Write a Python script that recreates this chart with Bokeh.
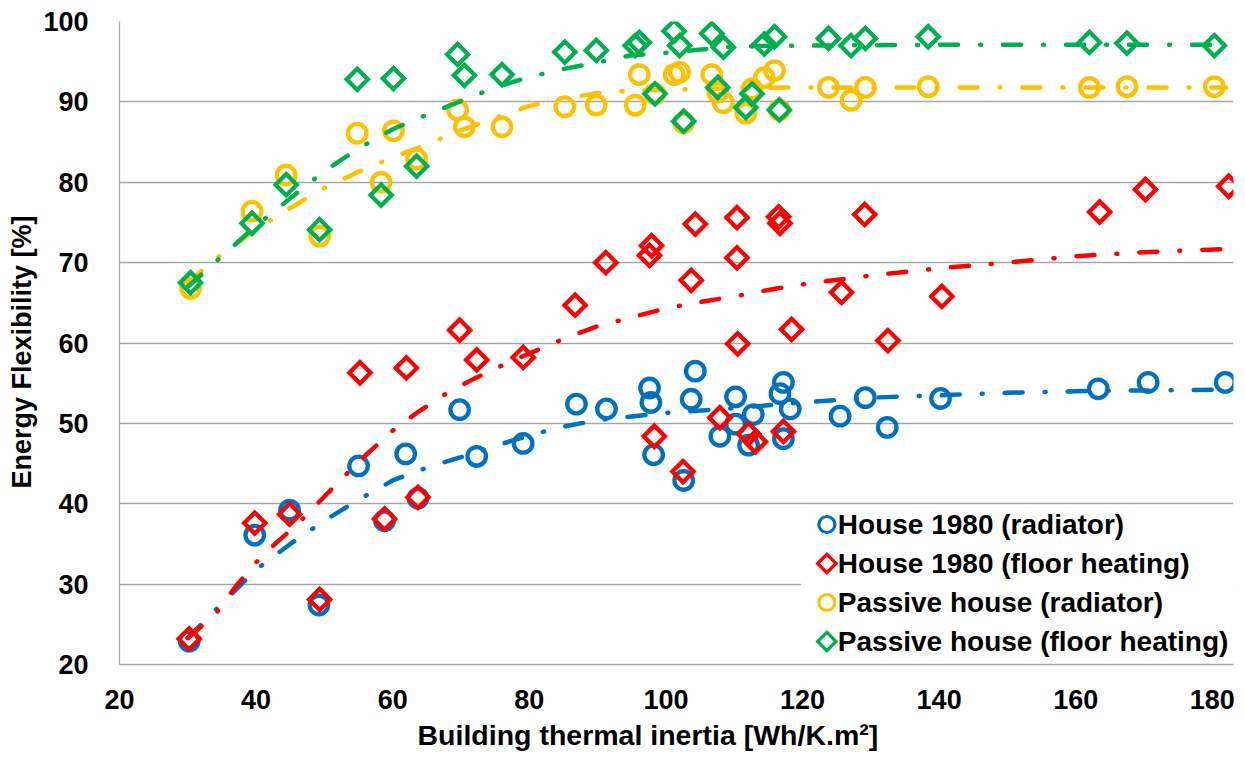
import math
from bokeh.plotting import figure
from bokeh.models import Range1d, FixedTicker, Title
from bokeh.core.properties import value
from bokeh.embed import file_html
from bokeh.resources import INLINE

# ---------------------------------------------------------------------------
# Simulated cases: building thermal inertia [Wh/K.m²] vs energy flexibility [%]
# ---------------------------------------------------------------------------
h1980_rad_x = [30.2, 39.8, 44.9, 49.2, 55.0, 58.8, 61.9, 63.7, 69.8, 72.3,
               79.1, 86.9, 91.3, 97.6, 97.8, 98.2, 102.6, 103.7, 104.3, 107.9,
               110.2, 110.2, 112.1, 112.8, 116.7, 117.2, 117.2, 118.2, 125.5, 129.2,
               132.4, 140.2, 163.3, 170.6, 181.9]
h1980_rad_y = [22.9, 36.1, 39.2, 27.4, 44.7, 37.9, 46.2, 40.7, 51.7, 45.9,
               47.5, 52.4, 51.8, 54.4, 52.6, 46.1, 42.9, 53.0, 56.5, 48.4,
               53.3, 49.9, 47.3, 51.1, 53.7, 55.1, 48.1, 51.8, 50.9, 53.2,
               49.5, 53.1, 54.3, 55.1, 55.1]

h1980_floor_x = [30.2, 39.8, 44.9, 49.3, 55.2, 58.8, 62.0, 63.7, 69.8, 72.3,
                 79.1, 86.7, 91.2, 97.6, 97.9, 98.3, 102.5, 103.7, 104.3, 107.9,
                 110.4, 110.4, 110.5, 112.1, 113.1, 116.5, 116.7, 117.2, 118.4, 125.7,
                 129.1, 132.5, 140.4, 163.5, 170.2, 182.4]
h1980_floor_y = [23.2, 37.6, 38.7, 28.1, 56.3, 38.1, 56.9, 40.8, 61.6, 57.9,
                 58.2, 64.7, 70.0, 70.9, 72.1, 48.4, 44.0, 67.8, 74.8, 50.7,
                 75.6, 70.6, 59.9, 48.7, 47.7, 75.7, 74.9, 49.0, 61.7, 66.3,
                 76.0, 60.3, 65.8, 76.3, 79.1, 79.5]

passive_x = [30.4, 39.4, 44.4, 49.3, 54.8, 58.3, 60.1, 63.5, 69.5, 70.5,
             76.0, 85.2, 89.8, 95.5, 96.1, 98.4, 101.2, 102.0, 102.6, 106.7,
             107.6, 108.4, 111.7, 112.6, 114.4, 115.9, 116.6, 123.8, 127.1, 129.2,
             138.4, 162.0, 167.5, 180.3]
passive_rad_y = [66.8, 76.4, 80.9, 73.3, 86.1, 80.0, 86.4, 82.9, 89.0, 86.9,
                 86.9, 89.4, 89.6, 89.6, 93.4, 91.0, 93.4, 93.7, 87.4, 93.4,
                 91.2, 89.9, 88.6, 91.6, 93.0, 93.9, 89.0, 91.8, 90.2, 91.8,
                 91.9, 91.8, 91.9, 91.9]
passive_floor_y = [67.5, 74.9, 79.7, 74.1, 92.8, 78.4, 92.9, 82.0, 95.9, 93.3,
                   93.4, 96.2, 96.4, 97.0, 97.4, 91.0, 98.8, 97.0, 87.6, 98.5,
                   91.8, 96.8, 89.3, 91.0, 97.2, 98.1, 89.0, 97.9, 97.0, 97.9,
                   98.1, 97.4, 97.3, 97.0]

# Fitted trend curves (sampled)
trend_h1980_rad_x = [30, 35, 40, 45, 50, 55, 60, 65, 70, 75, 80, 85, 90, 100,
                     110, 120, 130, 140, 150, 160, 170, 182]
trend_h1980_rad_y = [23.3, 27.6, 31.8, 35.0, 37.9, 40.5, 42.9, 44.5, 45.8, 47.2,
                     48.5, 49.6, 50.4, 51.3, 51.9, 52.6, 53.2, 53.5, 53.8, 54.0,
                     54.1, 54.2]
trend_h1980_floor_x = [30, 34, 37, 40, 43, 46, 50, 53, 56, 60, 64, 68, 72, 76, 80,
                       85, 90, 95, 100, 105, 110, 115, 120, 130, 140, 150, 160,
                       170, 182]
trend_h1980_floor_y = [23.3, 26.2, 29.7, 32.7, 35.2, 37.4, 40.9, 43.5, 46.0, 49.1,
                       51.6, 53.8, 55.6, 57.2, 58.7, 60.5, 62.1, 63.2, 64.3, 65.1,
                       65.8, 66.6, 67.3, 68.4, 69.3, 70.0, 70.8, 71.3, 71.7]
trend_passive_x = [30, 35, 40, 45, 50, 55, 60, 65, 70, 75, 80, 85, 90, 95, 100,
                   110, 120, 140, 160, 182]
trend_passive_rad_y = [67.5, 71.1, 74.1, 76.8, 79.3, 81.3, 83.1, 84.7, 86.5, 88.0,
                       89.5, 90.4, 91.1, 91.4, 91.5, 91.7, 91.8, 91.8, 91.8, 91.8]
trend_passive_floor_y = [67.0, 70.8, 74.6, 78.0, 81.4, 84.2, 86.6, 88.4, 90.1, 91.8,
                         93.1, 94.1, 94.9, 95.8, 96.1, 96.9, 97.0, 97.1, 97.1, 97.1]

series_labels = ["House 1980 (radiator)", "House 1980 (floor heating)",
                 "Passive house (radiator)", "Passive house (floor heating)"]
x_title = "Building thermal inertia [Wh/K.m²]"
y_title = "Energy Flexibility [%]"
x_ticks = [20, 40, 60, 80, 100, 120, 140, 160, 180]
y_ticks = [20, 30, 40, 50, 60, 70, 80, 90, 100]

BLUE, RED, YELLOW, GREEN = "#0070C0", "#FF0000", "#FFC000", "#00B050"
FONT = "Liberation Sans"

# ---------------------------------------------------------------------------
W, H = 1245, 758
B_LEFT, B_RIGHT, B_TOP, B_BOTTOM = 118, 12, 21, 94
X0, X1, Y0, Y1 = 20, 183.1, 20, 100

p = figure(width=W, height=H, x_range=Range1d(X0, X1), y_range=Range1d(Y0, Y1),
           output_backend="svg", toolbar_location=None,
           min_border_left=B_LEFT, min_border_right=B_RIGHT,
           min_border_top=B_TOP, min_border_bottom=B_BOTTOM,
           background_fill_color="white", border_fill_color="white",
           outline_line_color=None)

p.xgrid.visible = False
p.ygrid.grid_line_color = "#a6a6a6"
p.ygrid.grid_line_width = 1.3
p.xaxis.ticker = FixedTicker(ticks=x_ticks)
p.yaxis.ticker = FixedTicker(ticks=y_ticks)

for ax in (p.xaxis[0], p.yaxis[0]):
    ax.axis_line_color = "#a6a6a6"
    ax.axis_line_width = 1.3
    ax.major_tick_line_color = None
    ax.minor_tick_line_color = None
    ax.major_label_text_font = FONT
    ax.major_label_text_font_style = "bold"
    ax.major_label_text_font_size = "27px"
    ax.major_label_text_color = "black"

p.xaxis.major_label_standoff = 19
p.yaxis.major_label_standoff = 25

# Axis titles as side titles, so that they can be offset along the axis
p.add_layout(Title(text=x_title, align="left", offset=298, vertical_align="bottom",
                   standoff=11, text_font=FONT, text_font_style="bold",
                   text_font_size="28.5px", text_color="black"), "below")
p.add_layout(Title(text=y_title, align="left", offset=176, vertical_align="bottom",
                   standoff=8, text_font=FONT, text_font_style="bold",
                   text_font_size="27px", text_color="black"), "left")

DASH = "18 22 1 22"
CIRCLE = dict(marker="circle", size=18.5, fill_color=None, line_width=4.3)
DIAMOND = dict(marker="square", angle=math.pi / 4, size=15, fill_color=None,
               line_width=4.3, line_join="miter")

def trend(xs, ys, color):
    p.line(xs, ys, line_color=color, line_width=4.5, line_dash=DASH, line_cap="round")

p.scatter(h1980_rad_x, h1980_rad_y, line_color=BLUE, **CIRCLE)
trend(trend_h1980_rad_x, trend_h1980_rad_y, BLUE)
p.scatter(h1980_floor_x, h1980_floor_y, line_color=RED, **DIAMOND)
trend(trend_h1980_floor_x, trend_h1980_floor_y, RED)
p.scatter(passive_x, passive_rad_y, line_color=YELLOW, **CIRCLE)
trend(trend_passive_x, trend_passive_rad_y, YELLOW)
p.scatter(passive_x, passive_floor_y, line_color=GREEN, **DIAMOND)
trend(trend_passive_x, trend_passive_floor_y, GREEN)

# ---------------------------------------------------------------------------
# Legend box in the lower right corner of the plot area (laid out in pixels)
frame_w = W - B_LEFT - B_RIGHT
frame_h = H - B_TOP - B_BOTTOM

def px_x(sx):
    return X0 + (sx - B_LEFT) / frame_w * (X1 - X0)

def px_y(sy):
    return Y1 - (sy - B_TOP) / frame_h * (Y1 - Y0)

p.quad(left=[px_x(800)], right=[X1], bottom=[px_y(662.5)], top=[px_y(506)],
       fill_color="white", line_color=None)

row_y = [px_y(524 + 39 * i) for i in range(len(series_labels))]
mark_x = [px_x(826)] * len(series_labels)
colors = [BLUE, RED, YELLOW, GREEN]
for i, (lab, col) in enumerate(zip(series_labels, colors)):
    if i % 2 == 0:
        p.scatter([mark_x[i]], [row_y[i]], marker="circle", size=16, fill_color=None,
                  line_color=col, line_width=3.2)
    else:
        p.scatter([mark_x[i]], [row_y[i]], marker="square", angle=math.pi / 4, size=13,
                  fill_color=None, line_color=col, line_width=3.2, line_join="miter")
p.text(x=[px_x(837)] * len(series_labels), y=row_y, text=series_labels,
       text_font=value(FONT), text_font_style="bold", text_font_size="28px",
       text_color="black", text_baseline="middle", text_align="left")

open("out.html", "w").write(file_html(p, INLINE))
